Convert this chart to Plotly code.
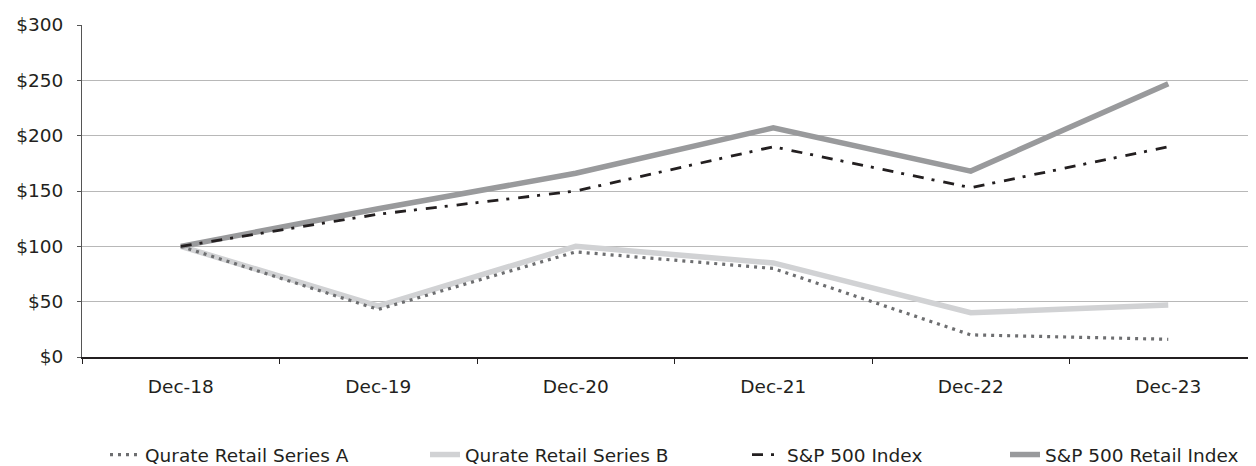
import plotly.graph_objects as go

categories = ["Dec-18", "Dec-19", "Dec-20", "Dec-21", "Dec-22", "Dec-23"]
qurate_a = [100, 43, 95, 80, 20, 16]
qurate_b = [100, 46, 100, 85, 40, 47]
sp500 = [100, 129, 150, 190, 153, 190]
sp500_retail = [100, 134, 166, 207, 168, 247]
y_ticks = [0, 50, 100, 150, 200, 250, 300]
y_tick_labels = ["$0", "$50", "$100", "$150", "$200", "$250", "$300"]

# page has an 8px body margin; figure coords = page coords - 8
OFF = 8
W, H = 1256 - OFF, 466 - OFF
ML, MR, MT = 82 - OFF, 0, 25 - OFF
PW = W - ML - MR
PH = 332
MB = H - MT - PH
FONT = "DejaVu Sans"
FS = 18.5
TXT = "#231f20"

def px_x(page_px):
    return (page_px - OFF - ML) / PW

legend_y = -((455 - OFF) - (MT + PH)) / PH

fig = go.Figure()

fig.add_trace(go.Scatter(
    x=categories, y=qurate_b, name="Qurate Retail Series B", mode="lines",
    line=dict(color="#d1d2d4", width=5.5), legend="legend2"))
fig.add_trace(go.Scatter(
    x=categories, y=qurate_a, name="Qurate Retail Series A", mode="lines",
    line=dict(color="#6d6e70", width=3.2, dash="3px,5px"), legend="legend"))
fig.add_trace(go.Scatter(
    x=categories, y=sp500_retail, name="S&P 500 Retail Index", mode="lines",
    line=dict(color="#999a9c", width=5.5), legend="legend4"))
fig.add_trace(go.Scatter(
    x=categories, y=sp500, name="S&P 500 Index", mode="lines",
    line=dict(color="#231f20", width=2.8, dash="11px,8px,3px,9px"), legend="legend3"))

def leg(text_page_px):
    return dict(x=px_x(text_page_px - 40), y=legend_y, xanchor="left", yanchor="middle",
                orientation="h", font=dict(family=FONT, size=FS, color=TXT),
                bgcolor="rgba(0,0,0,0)", borderwidth=0)

fig.update_layout(
    width=W, height=H,
    margin=dict(l=ML, r=MR, t=MT, b=MB, pad=0, autoexpand=False),
    paper_bgcolor="white", plot_bgcolor="white",
    font=dict(family=FONT, size=FS, color=TXT),
    showlegend=True,
    legend=leg(145), legend2=leg(465), legend3=leg(787), legend4=leg(1045),
    xaxis=dict(
        type="category", categoryorder="array", categoryarray=categories,
        range=[-0.5, -0.5 + PW / 197.5],
        tickson="boundaries", ticks="outside", ticklen=5, tickcolor="#231f20", tickwidth=1,
        showgrid=False, showline=True, linecolor="#231f20", linewidth=1.5,
        ticklabelstandoff=12, tickfont=dict(family=FONT, size=FS, color=TXT),
        zeroline=False, fixedrange=True,
    ),
    yaxis=dict(
        range=[0, 300], tickmode="array", tickvals=y_ticks, ticktext=y_tick_labels,
        ticks="outside", ticklen=4, tickcolor="#555555",
        showgrid=True, gridcolor="#b8b8b8", gridwidth=1.2,
        showline=True, linecolor="#555555", linewidth=1,
        ticklabelstandoff=10, tickfont=dict(family=FONT, size=FS, color=TXT),
        zeroline=False, fixedrange=True,
    ),
)

fig.write_html("out.html")
